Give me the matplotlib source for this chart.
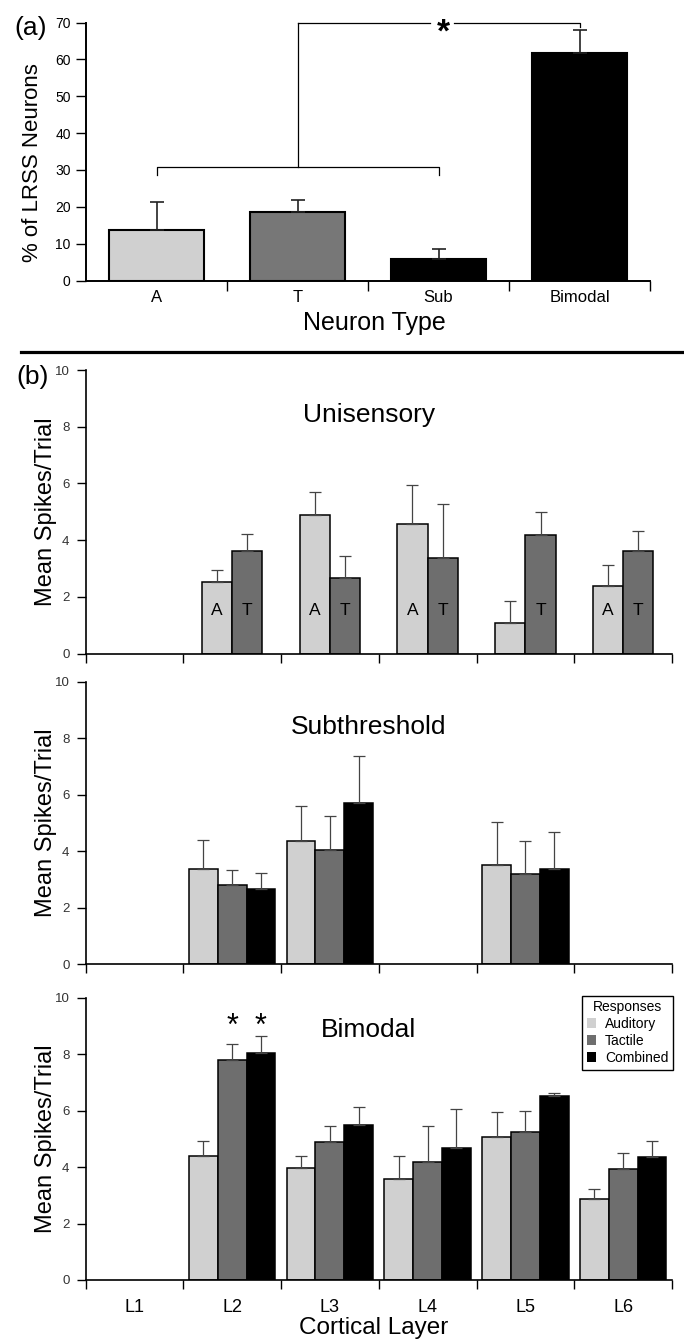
import numpy as np
import matplotlib
matplotlib.use('Agg')
import matplotlib.pyplot as plt
from matplotlib.patches import Patch
from matplotlib.lines import Line2D

plt.rcParams['font.family'] = ['Liberation Sans', 'DejaVu Sans']

# ---------------- data ----------------
# Panel (a): % of LRSS neurons by neuron type
neuron_types = ['A', 'T', 'Sub', 'Bimodal']
pct_neurons = [13.7, 18.6, 5.9, 61.6]
pct_neurons_err = [7.7, 3.2, 2.7, 6.3]

# Panel (b): mean spikes/trial by cortical layer
nan = np.nan
layers = ['L1', 'L2', 'L3', 'L4', 'L5', 'L6']

uni_auditory = [nan, 2.52, 4.87, 4.58, 1.08, 2.39]
uni_auditory_err = [nan, 0.41, 0.81, 1.36, 0.76, 0.74]
uni_tactile = [nan, 3.60, 2.68, 3.36, 4.18, 3.60]
uni_tactile_err = [nan, 0.60, 0.75, 1.92, 0.82, 0.73]

sub_auditory = [nan, 3.38, 4.36, nan, 3.51, nan]
sub_auditory_err = [nan, 1.03, 1.25, nan, 1.51, nan]
sub_tactile = [nan, 2.81, 4.03, nan, 3.18, nan]
sub_tactile_err = [nan, 0.53, 1.21, nan, 1.18, nan]
sub_combined = [nan, 2.68, 5.72, nan, 3.38, nan]
sub_combined_err = [nan, 0.54, 1.64, nan, 1.31, nan]

bi_auditory = [nan, 4.40, 3.98, 3.57, 5.06, 2.86]
bi_auditory_err = [nan, 0.52, 0.42, 0.83, 0.89, 0.38]
bi_tactile = [nan, 7.78, 4.88, 4.17, 5.25, 3.94]
bi_tactile_err = [nan, 0.58, 0.59, 1.30, 0.74, 0.55]
bi_combined = [nan, 8.04, 5.48, 4.69, 6.52, 4.36]
bi_combined_err = [nan, 0.59, 0.65, 1.35, 0.12, 0.56]

response_labels = ['Auditory', 'Tactile', 'Combined']

# ---------------- style ----------------
LIGHT = '#d0d0d0'
MID = '#6e6e6e'
DARK = '#000000'
ERR = '#444444'

W, H = 684, 1343
fig = plt.figure(figsize=(W / 100, H / 100), dpi=100)


def fx(px):
    return px / W


def fy(py):
    return 1 - py / H


def axes_px(left, right, top, bottom):
    return fig.add_axes([fx(left), fy(bottom), (right - left) / W, (bottom - top) / H])


def draw_bars(ax, xs, vals, errs, width, color, ecolor=ERR, lw=1.1, elw=0.9, cap=4.5):
    xs = np.asarray(xs, float)
    vals = np.asarray(vals, float)
    errs = np.asarray(errs, float)
    m = ~np.isnan(vals)
    ax.bar(xs[m], vals[m], width=width, color=color, edgecolor='black',
           linewidth=lw, zorder=2)
    ax.errorbar(xs[m], vals[m], yerr=[np.zeros(m.sum()), errs[m]], fmt='none',
                ecolor=ecolor, elinewidth=elw, capsize=cap, capthick=elw, zorder=3)


# ---------------- panel (a) ----------------
ax_a = axes_px(86, 650, 22.5, 280.5)
xa = np.arange(len(neuron_types))
draw_bars(ax_a, xa, pct_neurons, pct_neurons_err, 0.67, [LIGHT, '#777777', DARK, DARK],
          ecolor='#222222', lw=1.5, elw=1.2, cap=5)
ax_a.set_xlim(-0.5, 3.5)
ax_a.set_ylim(0, 70)
ax_a.set_yticks(range(0, 71, 10))
ax_a.set_xticks([0.5, 1.5, 2.5, 3.5])
ax_a.set_xticklabels([])
ax_a.set_xticks(xa, minor=True)
ax_a.set_xticklabels(neuron_types, minor=True, fontsize=12)
ax_a.tick_params(axis='x', which='minor', length=0, pad=7)
ax_a.tick_params(axis='both', which='major', direction='out', length=7, width=1.0,
                 labelsize=10, pad=4)
for s in ['top', 'right']:
    ax_a.spines[s].set_visible(False)
for s in ['left', 'bottom']:
    ax_a.spines[s].set_linewidth(1.4)

# significance brackets
bk = dict(color='black', lw=0.9, clip_on=False, zorder=4)
ax_a.plot([0, 0, 2, 2], [28.6, 30.9, 30.9, 28.6], **bk)
ax_a.plot([1, 1], [30.9, 70], **bk)
ax_a.plot([1, 1.94], [70, 70], **bk)
ax_a.plot([2.11, 3, 3], [70, 70, 68.8], **bk)
ax_a.annotate('*', xy=(2.035, 70), xytext=(0, -0.57 * 24), textcoords='offset points',
              ha='center', va='baseline', fontsize=24, fontweight='bold', annotation_clip=False)

fig.text(fx(33), fy(162.5), '% of LRSS Neurons', rotation=90, ha='center', va='center',
         fontsize=16)
fig.text(fx(374), fy(323), 'Neuron Type', ha='center', va='center', fontsize=18)
fig.text(fx(31), fy(28), '(a)', ha='center', va='center', fontsize=19)

# separator
fig.add_artist(Line2D([fx(21), 1.0], [fy(351.7), fy(351.7)], lw=2.3, color='black'))
fig.text(fx(33), fy(377), '(b)', ha='center', va='center', fontsize=19)

# ---------------- panel (b) ----------------
xl = np.arange(len(layers))


def style_b(ax, title, title_y):
    ax.set_xlim(-0.5, 5.5)
    ax.set_ylim(0, 10)
    ax.set_yticks(range(0, 11, 2))
    ax.set_xticks(np.arange(-0.5, 6, 1))
    ax.set_xticklabels([])
    ax.tick_params(axis='both', which='major', direction='out', length=6.5, width=1.0,
                   labelsize=9.5, labelcolor='#333333', pad=5)
    for s in ['top', 'right']:
        ax.spines[s].set_visible(False)
    for s in ['left', 'bottom']:
        ax.spines[s].set_linewidth(1.2)
    ax.text(0.483, title_y, title, transform=ax.get_yaxis_transform(), ha='center',
            va='center', fontsize=19)


ax1 = axes_px(85.5, 672, 370, 653.5)
ax2 = axes_px(85.5, 672, 681.7, 964.3)
ax3 = axes_px(85.5, 672, 997.7, 1280)

# Unisensory
wu = 0.31
draw_bars(ax1, xl - wu / 2, uni_auditory, uni_auditory_err, wu, LIGHT)
draw_bars(ax1, xl + wu / 2, uni_tactile, uni_tactile_err, wu, MID)
for i in range(len(layers)):
    if not np.isnan(uni_auditory[i]) and uni_auditory[i] >= 2:
        ax1.text(xl[i] - wu / 2, 1.5, 'A', ha='center', va='center', fontsize=12.5, zorder=5)
    if not np.isnan(uni_tactile[i]) and uni_tactile[i] >= 2:
        ax1.text(xl[i] + wu / 2, 1.5, 'T', ha='center', va='center', fontsize=12.5, zorder=5)
style_b(ax1, 'Unisensory', 8.4)

# Subthreshold
wb = 0.295
draw_bars(ax2, xl - wb, sub_auditory, sub_auditory_err, wb, LIGHT)
draw_bars(ax2, xl, sub_tactile, sub_tactile_err, wb, MID)
draw_bars(ax2, xl + wb, sub_combined, sub_combined_err, wb, DARK)
style_b(ax2, 'Subthreshold', 8.4)

# Bimodal
draw_bars(ax3, xl - wb, bi_auditory, bi_auditory_err, wb, LIGHT)
draw_bars(ax3, xl, bi_tactile, bi_tactile_err, wb, MID)
draw_bars(ax3, xl + wb, bi_combined, bi_combined_err, wb, DARK)
style_b(ax3, 'Bimodal', 8.87)
for xs in [xl[1], xl[1] + wb]:
    ax3.annotate('*', xy=(xs, 9.31), xytext=(0, -0.57 * 22), textcoords='offset points',
                 ha='center', va='baseline', fontsize=22, annotation_clip=False)
ax3.set_xticks(xl, minor=True)
ax3.set_xticklabels(layers, minor=True, fontsize=13)
ax3.tick_params(axis='x', which='minor', length=0, pad=14)

handles = [Patch(facecolor=c, edgecolor='none') for c in (LIGHT, MID, DARK)]
leg = ax3.legend(handles, response_labels, title='Responses', loc='upper right',
                 bbox_to_anchor=(fx(673), fy(995.5)), bbox_transform=fig.transFigure,
                 fontsize=10, title_fontsize=10, frameon=True, fancybox=False,
                 edgecolor='black', framealpha=1, borderpad=0.35, labelspacing=0.2,
                 handlelength=0.7, handleheight=0.7, handletextpad=0.6, borderaxespad=0)
leg.get_frame().set_linewidth(1.0)

for ax in (ax1, ax2, ax3):
    bb = ax.get_position()
    fig.text(fx(46), (bb.y0 + bb.y1) / 2, 'Mean Spikes/Trial', rotation=90, ha='center',
             va='center', fontsize=17)

fig.text(fx(374), fy(1328), 'Cortical Layer', ha='center', va='center', fontsize=17.5)

fig.savefig('out.png', dpi=100)
